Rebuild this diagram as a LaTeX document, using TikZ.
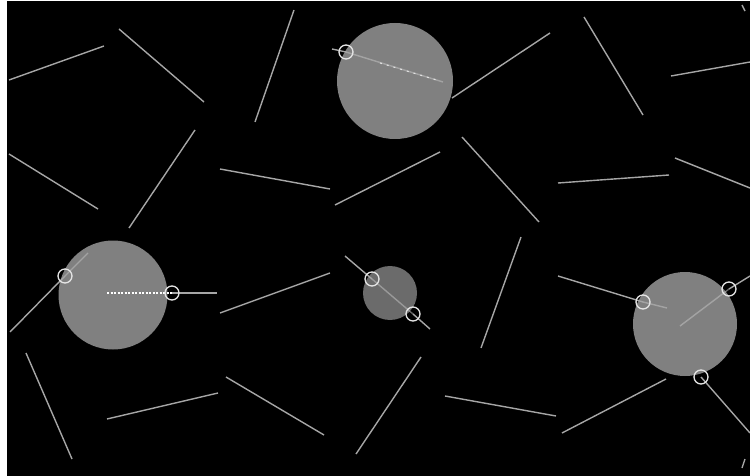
\documentclass[tikz,border=0pt]{standalone}
\begin{document}
\begin{tikzpicture}[x=1pt,y=-1pt,
  seg/.style={draw=black!35!white, line width=1.4pt},
  inner/.style={draw=black!22!white, line width=1.4pt, opacity=0.5},
  dots/.style={draw=white, line width=1.1pt, dash pattern=on 2pt off 1.5pt},
  sparse/.style={draw=white, line width=1.1pt, dash pattern=on 2pt off 5pt, opacity=0.7},
  disc/.style={fill=black!50!white},
  darkdisc/.style={fill=black!58!white},
  marker/.style={draw=black!10!white, line width=1.3pt}]
\useasboundingbox (0,0) rectangle (750,476);
\fill[white] (0,0) rectangle (750,476);
\fill[black] (7,1) rectangle (750,476);
% discs
\fill[disc] (395,81) circle (58);
\fill[disc] (113,295) circle (54.5);
\fill[darkdisc] (390,293) circle (27);
\fill[disc] (685,324) circle (52);
% free segments
\draw[seg] (9,80) -- (104,46);
\draw[seg] (119,29) -- (204,102);
\draw[seg] (255,122) -- (294,10);
\draw[seg] (452,98) -- (550,33);
\draw[seg] (584,17) -- (643,115);
\draw[seg] (671,76) -- (750,62);
\draw[seg] (9,154) -- (98,209);
\draw[seg] (195,130) -- (129,228);
\draw[seg] (220,169) -- (330,189);
\draw[seg] (335,205) -- (440,152);
\draw[seg] (462,137) -- (539,222);
\draw[seg] (558,183) -- (669,175);
\draw[seg] (675,158) -- (750,188);
\draw[seg] (220,313) -- (330,273);
\draw[seg] (521,237) -- (481,348);
\draw[seg] (26,353) -- (72,459);
\draw[seg] (107,419) -- (218,393);
\draw[seg] (226,377) -- (324,435);
\draw[seg] (421,357) -- (356,454);
\draw[seg] (445,396) -- (556,416);
\draw[seg] (562,433) -- (666,379);
\draw[seg] (742,5) -- (745,11);
\draw[seg] (745,459) -- (742,468);
% disc 1
\coordinate (m1) at (346,52);
\draw[seg] (332,49) -- (m1);
\draw[inner] (m1) -- (443,82);
\draw[sparse] (380,63) -- (440,81);
\draw[marker] (m1) circle (7);
% disc 2
\coordinate (m2a) at (65,276);
\coordinate (m2b) at (172,293);
\draw[seg] (10,332) -- (m2a);
\draw[inner] (m2a) -- (88,253);
\draw[seg] (m2b) -- (217,293);
\draw[dots] (107,293) -- (m2b);
\draw[marker] (m2a) circle (7);
\draw[marker] (m2b) circle (7);
% disc 3
\coordinate (m3a) at (372,279);
\coordinate (m3b) at (413,314);
\draw[seg] (345,256) -- (m3a);
\draw[inner] (m3a) -- (m3b);
\draw[seg] (m3b) -- (430,329);
\draw[marker] (m3a) circle (7);
\draw[marker] (m3b) circle (7);
% disc 4
\coordinate (m4a) at (643,302);
\coordinate (m4b) at (729,289);
\coordinate (m4c) at (701,377);
\draw[seg] (558,276) -- (m4a);
\draw[inner] (m4a) -- (667,308);
\draw[inner] (680,326) -- (m4b);
\draw[seg] (m4b) -- (750,276);
\draw[seg] (m4c) -- (750,433);
\draw[marker] (m4a) circle (7);
\draw[marker] (m4b) circle (7);
\draw[marker] (m4c) circle (7);
\end{tikzpicture}
\end{document}
